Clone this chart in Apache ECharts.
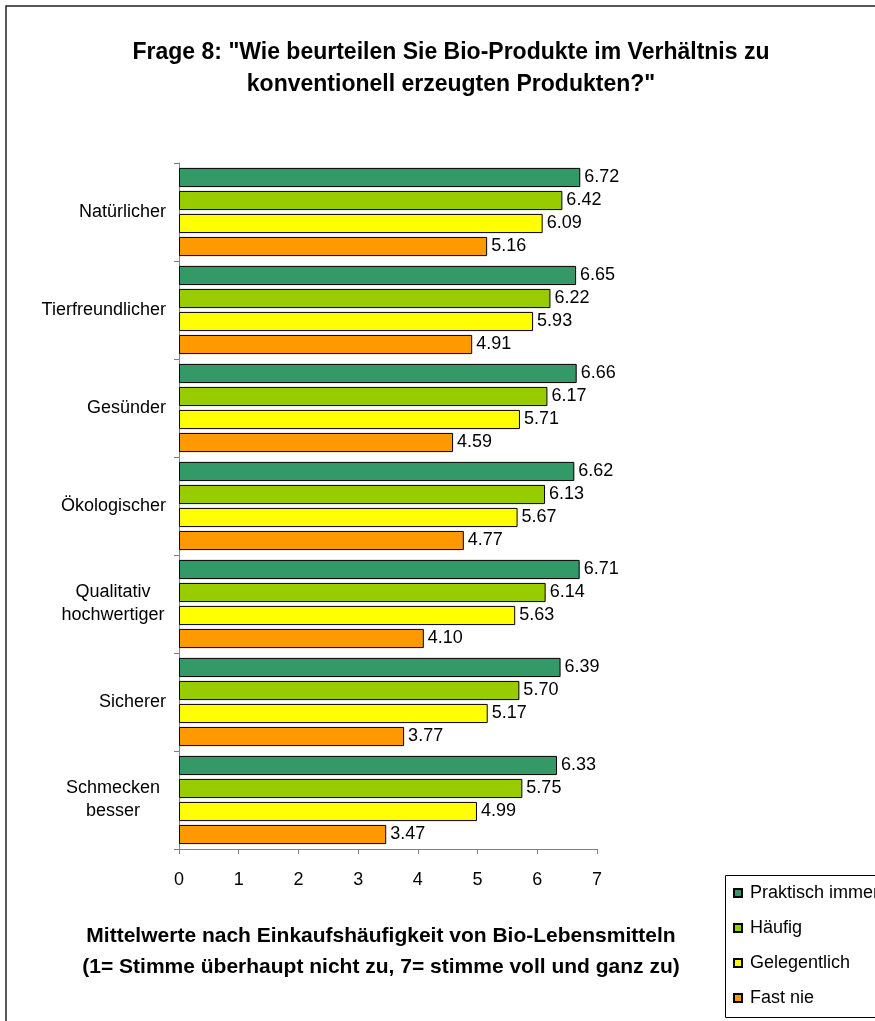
<!DOCTYPE html>
<html>
<head>
<meta charset="utf-8">
<script src="https://cdn.jsdelivr.net/npm/echarts@6/dist/echarts.min.js"></script>
<style>html,body{margin:0;padding:0;background:#fff}#c{width:875px;height:1021px}</style>
</head>
<body>
<div id="c"></div>
<script>
const categories = ["Natürlicher", "Tierfreundlicher", "Gesünder", "Ökologischer", "Qualitativ\nhochwertiger", "Sicherer", "Schmecken\nbesser"];
const seriesNames = ["Praktisch immer", "Häufig", "Gelegentlich", "Fast nie"];
const praktischImmer = [6.72, 6.65, 6.66, 6.62, 6.71, 6.39, 6.33];
const haeufig = [6.42, 6.22, 6.17, 6.13, 6.14, 5.70, 5.75];
const gelegentlich = [6.09, 5.93, 5.71, 5.67, 5.63, 5.17, 4.99];
const fastNie = [5.16, 4.91, 4.59, 4.77, 4.10, 3.77, 3.47];
const xTicks = [0, 1, 2, 3, 4, 5, 6, 7];
const titleText = 'Frage 8: "Wie beurteilen Sie Bio-Produkte im Verhältnis zu\nkonventionell erzeugten Produkten?"';
const axisTitleText = 'Mittelwerte nach Einkaufshäufigkeit von Bio-Lebensmitteln\n(1= Stimme überhaupt nicht zu, 7= stimme voll und ganz zu)';

const colors = ["#339966", "#99CC00", "#FFFF00", "#FF9900"];
const values = [praktischImmer, haeufig, gelegentlich, fastNie];
const FONT = '"Liberation Sans", Arial, sans-serif';

const chart = echarts.init(document.getElementById('c'), null, {renderer: 'canvas'});
chart.setOption({
  animation: false,
  textStyle: {fontFamily: FONT},
  grid: {left: 179, right: 278, top: 163, bottom: 172, containLabel: false},
  xAxis: {
    type: 'value', min: xTicks[0], max: xTicks[xTicks.length - 1], interval: 1,
    axisLine: {show: true, lineStyle: {color: '#808080', width: 1}},
    axisTick: {show: true, length: 5, lineStyle: {color: '#808080'}},
    axisLabel: {color: '#000', fontSize: 18, fontFamily: FONT, margin: 22},
    splitLine: {show: false}
  },
  yAxis: {
    type: 'category', data: categories, inverse: true,
    axisLine: {show: true, lineStyle: {color: '#808080', width: 1}},
    axisTick: {show: true, length: 5, lineStyle: {color: '#808080'}},
    axisLabel: {
      color: '#000', fontSize: 18, fontFamily: FONT, margin: 13,
      formatter: function (v) {
        if (v.indexOf('\n') < 0) return v;
        return v.split('\n').map(function (s) { return '{c|' + s + '}'; }).join('\n');
      },
      rich: {c: {width: 106, align: 'center', fontSize: 18, lineHeight: 23, color: '#000', fontFamily: FONT}}
    },
    splitLine: {show: false}
  },
  legend: {
    orient: 'vertical', left: 728, top: 879,
    itemWidth: 8, itemHeight: 8, itemGap: 17,
    icon: 'rect',
    textStyle: {fontSize: 18, color: '#000', fontFamily: FONT, lineHeight: 18, padding: [0, 0, 0, 3]},
    data: seriesNames
  },
  series: seriesNames.map(function (name, i) {
    return {
      name: name, type: 'bar', data: values[i],
      barCategoryGap: '10%', barGap: '20%',
      itemStyle: {color: colors[i], borderColor: '#000', borderWidth: 1},
      label: {
        show: true, position: 'right', distance: 4, color: '#000', fontSize: 18, fontFamily: FONT,
        formatter: function (p) { return p.value.toFixed(2); }
      }
    };
  }),
  graphic: [
    {type: 'rect', shape: {x: 6, y: 6, width: 1000, height: 1100}, style: {fill: 'none', stroke: '#222', lineWidth: 1.5}, z: 100},
    {type: 'rect', shape: {x: 725.5, y: 875.5, width: 200, height: 142}, style: {fill: 'none', stroke: '#000', lineWidth: 1}, z: 100},
    {type: 'text', x: 451, y: 37, style: {text: titleText, font: 'bold 23px ' + FONT, textAlign: 'center', lineHeight: 32, fill: '#000'}},
    {type: 'text', x: 381, y: 921, style: {text: axisTitleText, font: 'bold 21px ' + FONT, textAlign: 'center', lineHeight: 31, fill: '#000'}}
  ]
});
</script>
</body>
</html>
